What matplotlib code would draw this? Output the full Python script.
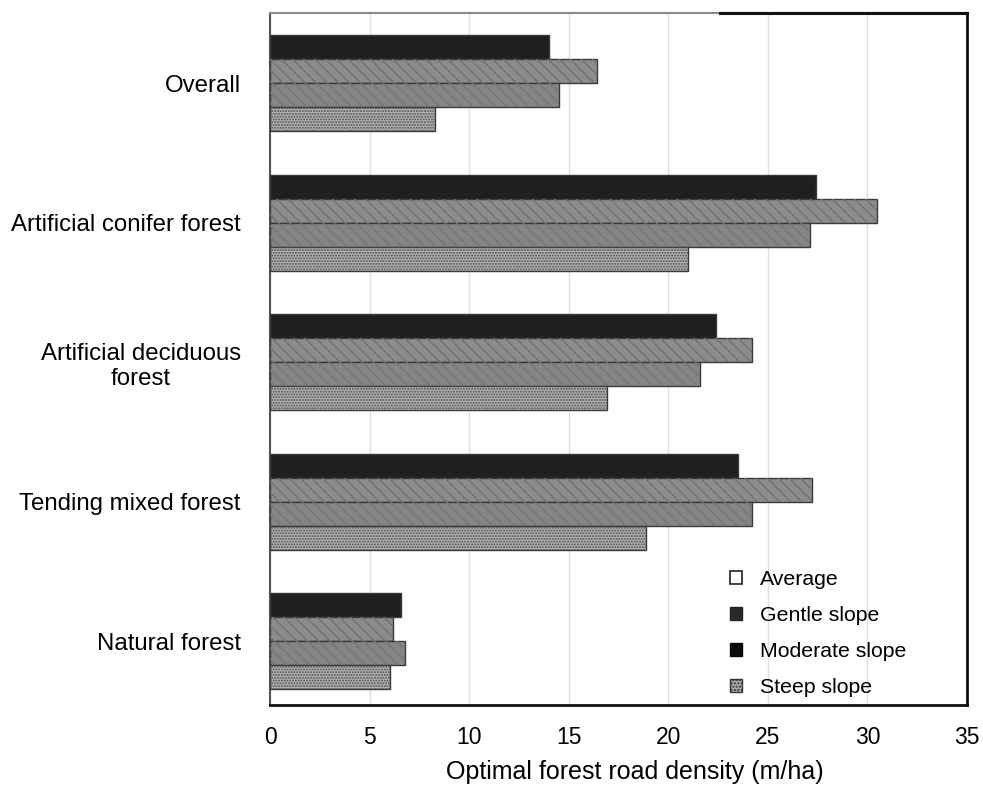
import numpy as np
import matplotlib.pyplot as plt
from matplotlib.patches import Patch

plt.rcParams['font.family'] = ['Liberation Sans', 'DejaVu Sans']

# categories, top to bottom
categories = ['Overall', 'Artificial conifer forest', 'Artificial deciduous\nforest',
              'Tending mixed forest', 'Natural forest']

# bar values (m/ha), in the order the bars are stacked inside each group
bar1 = [14.0, 27.4, 22.4, 23.5, 6.6]
bar2 = [16.4, 30.5, 24.2, 27.2, 6.2]
bar3 = [14.5, 27.1, 21.6, 24.2, 6.8]
bar4 = [8.3, 21.0, 16.9, 18.9, 6.0]

legend_labels = ['Average', 'Gentle slope', 'Moderate slope', 'Steep slope']
xticks = [0, 5, 10, 15, 20, 25, 30, 35]

fig = plt.figure(figsize=(9.83, 7.86), dpi=100)
ax = fig.add_axes([0.2747, 0.103, 0.7090, 0.8805])

y = np.arange(len(categories))
h = 0.172

styles = [
    dict(face='#1f1f1f', hatch=None, hcol=None),
    dict(face='#8c8c8c', hatch='\\\\\\', hcol='#727272'),
    dict(face='#858585', hatch='\\\\\\', hcol='#767676'),
    dict(face='#b4b4b4', hatch='......', hcol='#4e4e4e'),
]

for i, (vals, st) in enumerate(zip([bar1, bar2, bar3, bar4], styles)):
    pos = y + (i - 1.5) * h
    ax.barh(pos, vals, height=h, color=st['face'], edgecolor='#3a3a3a',
            linewidth=1.0, zorder=3)
    if st['hatch']:
        ax.barh(pos, vals, height=h, color='none', edgecolor=st['hcol'],
                hatch=st['hatch'], linewidth=0, zorder=3.5)

ax.set_xlim(0, 35)
ax.set_ylim(4.458, -0.502)
ax.set_xticks(xticks)
ax.set_xticklabels([str(t) for t in xticks], fontsize=16.5)
ax.set_yticks(y)
ax.set_yticklabels(categories, fontsize=17.3, multialignment='center')
ax.tick_params(axis='x', length=0, pad=15)
ax.tick_params(axis='y', length=0, pad=21)
ax.set_xlabel('Optimal forest road density (m/ha)', fontsize=18, labelpad=8)
ax.xaxis.label.set_x(0.524)

ax.grid(axis='x', color='#e0e0e0', linewidth=1.0, zorder=0)
ax.set_axisbelow(True)

ax.spines['left'].set_color('#555555')
ax.spines['left'].set_linewidth(1.5)
ax.spines['bottom'].set_color('#111111')
ax.spines['bottom'].set_linewidth(2)
ax.spines['right'].set_color('#111111')
ax.spines['right'].set_linewidth(2)
ax.spines['top'].set_color('#8a8a8a')
ax.spines['top'].set_linewidth(1.5)
ax.axhline(-0.502, xmin=0.645, xmax=1.0, color='#111111', linewidth=2.2,
           clip_on=False, zorder=5)

handles = [
    Patch(facecolor='white', edgecolor='#222222', linewidth=1.2),
    Patch(facecolor='#2a2a2a', edgecolor='#222222'),
    Patch(facecolor='#0a0a0a', edgecolor='#0a0a0a'),
    Patch(facecolor='#a8a8a8', edgecolor='#333333', hatch='.....'),
]
ax.legend(handles, legend_labels, loc='lower left', bbox_to_anchor=(0.632, -0.016),
          frameon=False, fontsize=15.3, handlelength=0.57, handleheight=0.57,
          handletextpad=0.85, labelspacing=0.8)

plt.savefig('out.png', dpi=100)
